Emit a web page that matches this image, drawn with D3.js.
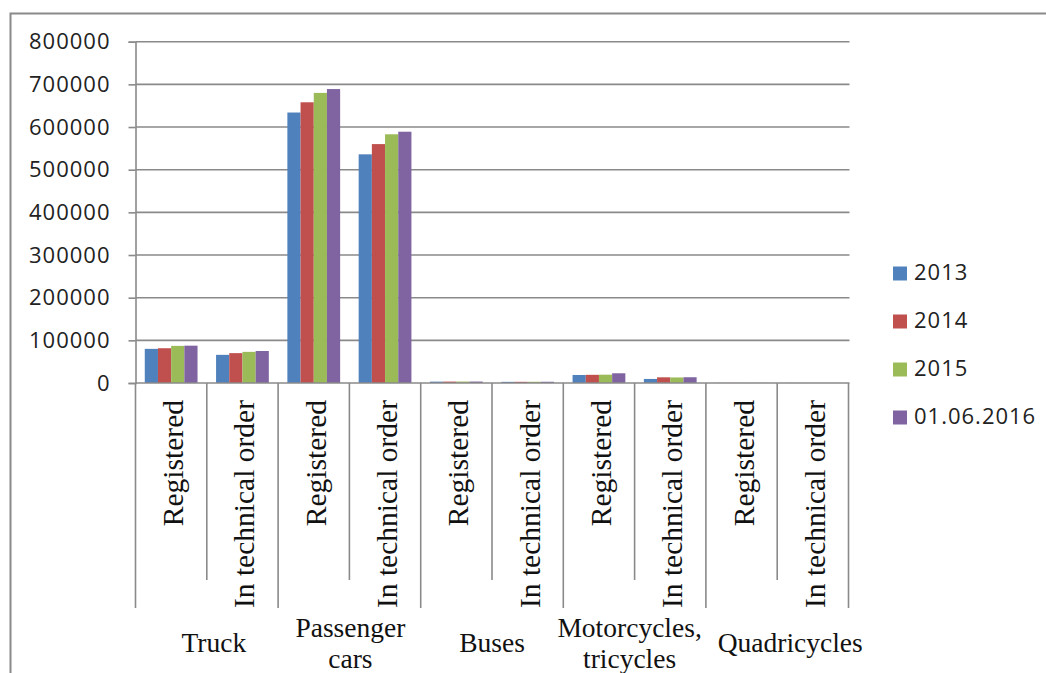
<!DOCTYPE html>
<html>
<head>
<meta charset="utf-8">
<script src="https://cdn.jsdelivr.net/npm/d3@7"></script>
<style>
  html, body { margin: 0; padding: 0; background: #fff; }
  svg { display: block; }
</style>
</head>
<body>
<svg id="chart" width="1046" height="673"></svg>
<script>
// Vehicle fleet by type and technical status
const groups = ["Truck", "Passenger cars", "Buses", "Motorcycles, tricycles", "Quadricycles"];
const groupLines = [["Truck"], ["Passenger", "cars"], ["Buses"], ["Motorcycles,", "tricycles"], ["Quadricycles"]];
const statuses = ["Registered", "In technical order"];
const seriesNames = ["2013", "2014", "2015", "01.06.2016"];
const yTicks = [0, 100000, 200000, 300000, 400000, 500000, 600000, 700000, 800000];

// values in order: Truck Reg, Truck Tech, Cars Reg, Cars Tech, Buses Reg, Buses Tech,
// Moto Reg, Moto Tech, Quad Reg, Quad Tech
const v2013 = [80000, 66000, 634000, 536000, 3200, 2700, 18800, 9500, 300, 250];
const v2014 = [81500, 70000, 658000, 560000, 3300, 2800, 19200, 13300, 300, 250];
const v2015 = [87000, 73000, 680000, 583000, 3400, 2900, 19500, 13000, 300, 250];
const v2016 = [87500, 75000, 689000, 589000, 3400, 2900, 22800, 13500, 300, 250];
const seriesValues = [v2013, v2014, v2015, v2016];
const colors = ["#4F81BD", "#C0504D", "#9BBB59", "#8064A2"];

(function () {
  const svg = d3.select("#chart");
  const gray = "#8a8a8a";
  const sansFont = "'Open Sans', sans-serif";
  const serifFont = "'Liberation Serif', 'Times New Roman', serif";

  // outer frame (extends past the canvas on right and bottom)
  svg.append("rect")
    .attr("x", 10.5).attr("y", 13.5)
    .attr("width", 1060).attr("height", 700)
    .attr("fill", "#fff").attr("stroke", gray).attr("stroke-width", 2);

  const plotLeft = 135.5, plotRight = 848.5, plotTop = 41.7, base = 383;

  const subKeys = [];
  groups.forEach(g => statuses.forEach(s => subKeys.push(g + "|" + s)));

  const x = d3.scaleBand().domain(subKeys).range([plotLeft, plotRight]).paddingInner(0.26).paddingOuter(0.13);
  const xStep = d3.scaleBand().domain(subKeys).range([plotLeft, plotRight]);
  const xSeries = d3.scaleBand().domain(seriesNames).range([0, x.bandwidth()]);
  const y = d3.scaleLinear().domain([0, 800000]).range([base, plotTop]);

  // gridlines
  svg.append("g").selectAll("line").data(yTicks.filter(t => t > 0)).join("line")
    .attr("x1", plotLeft).attr("x2", plotRight + 1)
    .attr("y1", d => y(d)).attr("y2", d => y(d))
    .attr("stroke", gray).attr("stroke-width", 1.6);

  // y axis
  const yAxis = d3.axisLeft(y).tickValues(yTicks).tickSize(7).tickPadding(18).tickFormat(d3.format("d"));
  const ya = svg.append("g").attr("transform", `translate(${plotLeft},0)`).call(yAxis);
  ya.select(".domain").attr("stroke", gray).attr("stroke-width", 1.6);
  ya.selectAll(".tick line").attr("stroke", gray).attr("stroke-width", 1.6);
  ya.selectAll(".tick text")
    .attr("font-family", sansFont)
    .attr("font-size", 22)
    .attr("letter-spacing", 1)
    .attr("fill", "#222");

  // bars
  const bars = svg.append("g");
  seriesValues.forEach((vals, si) => {
    bars.append("g").selectAll("rect").data(vals).join("rect")
      .attr("x", (d, i) => x(subKeys[i]) + xSeries(seriesNames[si]))
      .attr("width", xSeries.bandwidth())
      .attr("y", d => y(d))
      .attr("height", d => base - y(d))
      .attr("fill", colors[si]);
  });

  // baseline
  svg.append("line")
    .attr("x1", plotLeft).attr("x2", plotRight + 1)
    .attr("y1", base).attr("y2", base)
    .attr("stroke", gray).attr("stroke-width", 1.6);

  // category dividers under the axis
  const dividers = d3.range(subKeys.length + 1);
  svg.append("g").selectAll("line").data(dividers).join("line")
    .attr("x1", i => i < subKeys.length ? xStep(subKeys[i]) : plotRight)
    .attr("x2", i => i < subKeys.length ? xStep(subKeys[i]) : plotRight)
    .attr("y1", base)
    .attr("y2", i => i % 2 === 0 ? 608 : 580)
    .attr("stroke", gray).attr("stroke-width", 1.6);

  // rotated status labels
  svg.append("g").selectAll("text").data(subKeys).join("text")
    .attr("transform", d => `translate(${xStep(d) + xStep.bandwidth() / 2 + 12},400) rotate(-90)`)
    .attr("text-anchor", "end")
    .attr("font-family", serifFont)
    .attr("font-size", 29.5)
    .attr("fill", "#111")
    .text(d => d.split("|")[1]);

  // group labels
  const groupShift = [7, 1, 0, -5, 13];
  const gl = svg.append("g").selectAll("text").data(groups).join("text")
    .attr("text-anchor", "middle")
    .attr("font-family", serifFont)
    .attr("font-size", 27.5)
    .attr("fill", "#111")
    .attr("x", (d, i) => xStep(d + "|" + statuses[1]) + groupShift[i])
    .attr("y", (d, i) => groupLines[i].length > 1 ? 637 : 652);
  gl.each(function (d, i) {
    const t = d3.select(this);
    const cx = t.attr("x");
    groupLines[i].forEach((line, li) => {
      t.append("tspan").attr("x", cx).attr("dy", li === 0 ? 0 : 31).text(line);
    });
  });

  // legend
  const legend = svg.append("g");
  seriesNames.forEach((name, i) => {
    const ly = 280 + i * 48;
    legend.append("rect")
      .attr("x", 893).attr("y", ly - 13.5)
      .attr("width", 14).attr("height", 14)
      .attr("fill", colors[i]);
    legend.append("text")
      .attr("x", 914).attr("y", ly)
      .attr("font-family", sansFont)
      .attr("font-size", 22)
      .attr("letter-spacing", 1)
      .attr("fill", "#222")
      .text(name);
  });
})();
</script>
</body>
</html>
